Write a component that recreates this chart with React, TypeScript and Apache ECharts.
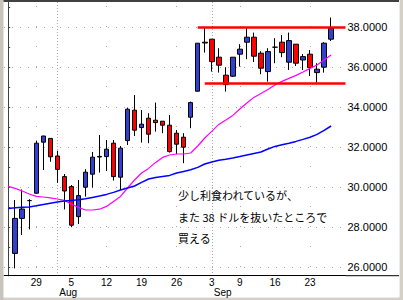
import React, { useEffect, useRef } from 'react';
import * as echarts from 'echarts';

// Trading days (first day only carries the moving averages)
const dates = [
  '2002-07-23', '2002-07-24', '2002-07-25', '2002-07-26', '2002-07-29', '2002-07-30', '2002-07-31',
  '2002-08-01', '2002-08-02', '2002-08-05', '2002-08-06', '2002-08-07', '2002-08-08', '2002-08-09',
  '2002-08-12', '2002-08-13', '2002-08-14', '2002-08-15', '2002-08-16', '2002-08-19', '2002-08-20',
  '2002-08-21', '2002-08-22', '2002-08-23', '2002-08-26', '2002-08-27', '2002-08-28', '2002-08-29',
  '2002-08-30', '2002-09-03', '2002-09-04', '2002-09-05', '2002-09-06', '2002-09-09', '2002-09-10',
  '2002-09-11', '2002-09-12', '2002-09-13', '2002-09-16', '2002-09-17', '2002-09-18', '2002-09-19',
  '2002-09-20', '2002-09-23', '2002-09-24', '2002-09-25', '2002-09-26',
];

// [open, close, low, high] from 2002-07-24
const candles: number[][] = [
  [26.68, 28.43, 25.93, 29.35],
  [28.43, 28.90, 27.60, 29.88],
  [29.32, 29.32, 27.88, 29.39],
  [29.69, 32.19, 29.65, 32.32],
  [32.24, 32.55, 30.85, 32.56],
  [32.43, 31.51, 31.26, 32.44],
  [31.55, 30.88, 30.21, 31.81],
  [30.52, 29.80, 28.88, 30.65],
  [30.02, 28.09, 27.99, 30.10],
  [28.52, 29.57, 28.15, 30.35],
  [29.99, 30.74, 29.52, 30.89],
  [30.64, 31.49, 29.97, 31.75],
  [31.50, 31.53, 30.72, 32.60],
  [31.52, 31.89, 30.80, 32.35],
  [32.19, 30.52, 30.32, 32.35],
  [30.49, 31.94, 29.85, 32.05],
  [32.32, 33.89, 32.10, 33.97],
  [33.84, 32.84, 32.55, 34.60],
  [32.97, 33.14, 32.22, 33.85],
  [33.44, 32.64, 32.19, 33.69],
  [33.34, 33.22, 32.77, 34.22],
  [33.29, 33.09, 32.69, 33.30],
  [33.09, 31.77, 31.72, 33.60],
  [32.69, 32.14, 31.64, 32.85],
  [32.49, 31.99, 31.19, 32.69],
  [33.49, 34.22, 32.94, 34.27],
  [34.79, 37.19, 34.77, 37.20],
  [37.24, 37.20, 36.72, 37.98],
  [37.39, 36.27, 35.77, 37.40],
  [36.49, 36.09, 35.72, 36.94],
  [35.59, 35.12, 34.77, 35.99],
  [35.54, 36.49, 35.50, 36.50],
  [36.64, 36.89, 36.02, 37.14],
  [37.24, 37.49, 36.39, 37.94],
  [37.49, 36.54, 36.25, 37.72],
  [36.69, 35.94, 35.64, 36.79],
  [35.77, 36.77, 35.27, 36.94],
  [36.99, 36.99, 36.19, 37.44],
  [37.24, 36.72, 36.49, 37.60],
  [36.24, 37.32, 35.85, 37.72],
  [37.14, 36.19, 36.05, 37.15],
  [36.35, 36.52, 35.85, 36.65],
  [36.64, 35.97, 35.55, 36.85],
  [35.72, 35.89, 35.22, 36.19],
  [35.99, 37.19, 35.72, 37.24],
  [37.39, 37.94, 37.30, 38.47],
];

// Moving averages from 2002-07-23
const maShort = [
  30.03, 29.93, 29.80, 29.65, 29.53, 29.50, 29.46, 29.40, 29.33, 29.15,
  28.98, 28.85, 28.85, 28.89, 29.03, 29.28, 29.53, 29.95, 30.35, 30.70,
  30.93, 31.23, 31.48, 31.60, 31.65, 31.65, 31.70, 32.05, 32.45, 32.78,
  33.13, 33.35, 33.58, 33.90, 34.20, 34.48, 34.68, 34.88, 35.10, 35.28,
  35.43, 35.58, 35.75, 35.93, 36.10, 36.35, 36.60,
];
const maLong = [
  28.93, 28.96, 28.99, 29.00, 29.06, 29.13, 29.19, 29.25, 29.30, 29.33,
  29.36, 29.41, 29.48, 29.55, 29.63, 29.73, 29.85, 29.95, 30.05, 30.23,
  30.40, 30.48, 30.53, 30.58, 30.70, 30.78, 30.86, 30.98, 31.15, 31.25,
  31.34, 31.39, 31.45, 31.52, 31.60, 31.68, 31.75, 31.90, 32.03, 32.11,
  32.19, 32.28, 32.38, 32.49, 32.63, 32.83, 33.05,
];

const weekLabelDates = ['2002-07-29', '2002-08-05', '2002-08-12', '2002-08-19', '2002-08-26', '2002-09-03', '2002-09-09', '2002-09-16', '2002-09-23'];
const gridDates = ['2002-07-29', '2002-08-12', '2002-08-26', '2002-09-09', '2002-09-23'];
const monthStarts = ['2002-08-01', '2002-09-03'];
const monthNames = ['Aug', 'Sep'];
const yLabelValues = [26, 28, 30, 32, 34, 36, 38];
const yMinorTicks = [26, 27, 28, 29, 30, 31, 32, 33, 34, 35, 36, 37, 38, 39];
const resistance = { date: '2002-08-29', value: 38.0 };
const support = { date: '2002-08-30', value: 35.2 };
const noteLines = ['少し利食われているが、', 'また 38 ドルを抜いたところで', '買える'];

const X_MIN = -0.598;
const X_MAX = 48.049;
const Y_MIN = 25.565;
const Y_MAX = 39.25;

const idx = (d: string) => dates.indexOf(d);

export default function App() {
  const ref = useRef<HTMLDivElement>(null);
  useEffect(() => {
    if (!ref.current) return;
    const chart = echarts.init(ref.current, undefined, { renderer: 'svg' });
    const labelFont = { fontFamily: 'Liberation Sans, Arial, sans-serif', fontSize: 11, color: '#000' };
    const xFont = { fontFamily: 'Liberation Sans, Arial, sans-serif', fontSize: 10, color: '#000', lineHeight: 10 };
    const option: any = {
      animation: false,
      backgroundColor: '#ffffff',
      grid: { left: 4, top: 2, width: 341.5, height: 273.7, containLabel: false },
      xAxis: [
        {
          type: 'value', min: X_MIN, max: X_MAX, position: 'bottom',
          axisLine: { show: true, lineStyle: { color: '#000', width: 1 } },
          axisTick: { show: false, customValues: gridDates.map(idx) },
          splitLine: { show: true, lineStyle: { color: '#a8a8a8', width: 1, type: [1, 19], dashOffset: 15.5 } },
          axisLabel: {
            ...xFont, margin: 1.3,
            customValues: weekLabelDates.map(idx),
            formatter: (v: number) => String(parseInt(dates[Math.round(v)].slice(8), 10)),
          },
        },
        {
          type: 'value', min: X_MIN, max: X_MAX, position: 'bottom',
          axisLine: { show: false },
          axisTick: { show: false, customValues: monthStarts.map(idx) },
          splitLine: { show: true, lineStyle: { color: '#a8a8a8', width: 1, type: [1, 2] } },
          axisLabel: {
            ...xFont, margin: 11.4, align: 'left', padding: [0, 0, 0, 2],
            customValues: monthStarts.map(idx),
            formatter: (v: number) => monthNames[monthStarts.map(idx).indexOf(Math.round(v))] || '',
          },
        },
      ],
      yAxis: [
        {
          type: 'value', min: Y_MIN, max: Y_MAX, position: 'right',
          axisLine: { show: true, lineStyle: { color: '#000', width: 1 } },
          axisTick: { show: false, customValues: yLabelValues },
          splitLine: { show: true, lineStyle: { color: '#a8a8a8', width: 1, type: [1, 7] } },
          axisLabel: {
            ...labelFont, margin: 2,
            customValues: yLabelValues,
            formatter: (v: number) => v.toFixed(4),
          },
        },
        {
          type: 'value', min: Y_MIN, max: Y_MAX, position: 'left',
          axisLine: { show: true, lineStyle: { color: '#404040', width: 1 } },
          axisTick: { show: true, inside: true, length: 2, customValues: yMinorTicks, lineStyle: { color: '#404040' } },
          splitLine: { show: false },
          axisLabel: { show: false },
        },
      ],
      series: [
        {
          type: 'candlestick',
          xAxisIndex: 0, yAxisIndex: 0,
          barWidth: 5,
          encode: { x: 0, y: [1, 2, 3, 4] },
          data: candles.map((c, k) => [k + 1, c[0], c[1], c[2], c[3]]),
          itemStyle: {
            color: '#3040d0', color0: '#ff0000',
            borderColor: '#000', borderColor0: '#000', borderColorDoji: '#000', borderWidth: 1,
          },
          markLine: {
            silent: true, symbol: 'none', label: { show: false },
            lineStyle: { color: '#ff0000', width: 2.5, type: 'solid' },
            data: [
              [{ coord: [idx(resistance.date), resistance.value] }, { coord: [X_MAX, resistance.value] }],
              [{ coord: [idx(support.date), support.value] }, { coord: [X_MAX, support.value] }],
            ],
          },
        },
        {
          type: 'line', xAxisIndex: 0, yAxisIndex: 0, symbol: 'none', silent: true,
          data: maShort.map((v, i) => [i, v]),
          lineStyle: { color: '#ff00ff', width: 1.2 },
        },
        {
          type: 'line', xAxisIndex: 0, yAxisIndex: 0, symbol: 'none', silent: true,
          data: maLong.map((v, i) => [i, v]),
          lineStyle: { color: '#0000ff', width: 1.5 },
        },
      ],
      graphic: [
        ...noteLines.map((t, i) => ({
          type: 'text', x: 178, y: 195 + i * 21.6, z: 10,
          style: { text: t, font: '11px "Noto Sans CJK JP"', fill: '#000', verticalAlign: 'middle' },
        })),
        { type: 'line', z: 10, shape: { x1: 345.5, y1: 275.7, x2: 399, y2: 275.7 }, style: { stroke: '#000', lineWidth: 1 } },
        { type: 'rect', z: 20, shape: { x: 0, y: 0, width: 3.5, height: 300 }, style: { fill: '#c8c4bc' } },
        { type: 'rect', z: 20, shape: { x: 3.5, y: 0, width: 395.5, height: 2 }, style: { fill: '#404040' } },
        { type: 'rect', z: 20, shape: { x: 399, y: 0, width: 4, height: 300 }, style: { fill: '#d4d0c8' } },
        { type: 'rect', z: 0, shape: { x: 0, y: 298, width: 403, height: 2 }, style: { fill: '#d4d0c8' } },
        { type: 'line', z: 21, shape: { x1: 399.5, y1: 0, x2: 399.5, y2: 297 }, style: { stroke: '#ececec', lineWidth: 1 } },
        { type: 'line', z: 0, shape: { x1: 3.5, y1: 297.5, x2: 400, y2: 297.5 }, style: { stroke: '#ececec', lineWidth: 1 } },
      ],
    };
    chart.setOption(option);
    return () => chart.dispose();
  }, []);
  return <div ref={ref} style={{ position: 'absolute', left: 0, top: 0, width: 403, height: 300 }} />;
}
